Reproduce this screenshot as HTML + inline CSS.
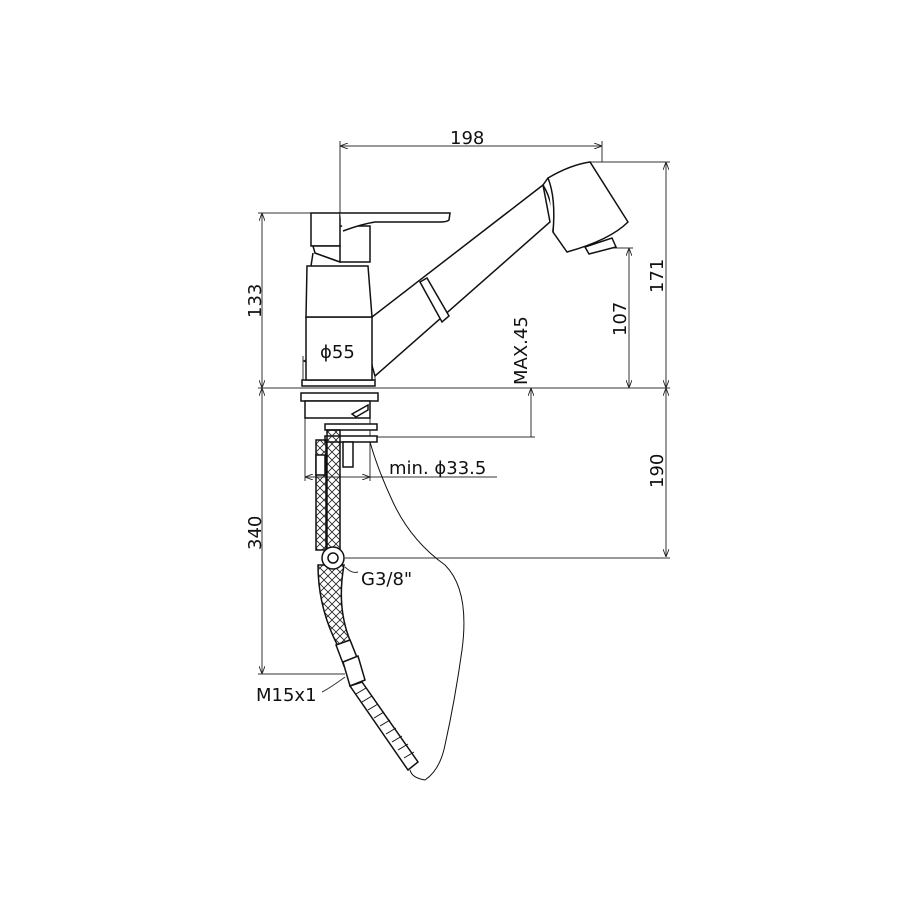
<!DOCTYPE html>
<html><head><style>body{margin:0;background:#fff}svg{display:block}text{font-family:"DejaVu Sans","Liberation Sans",sans-serif;fill:#111}</style></head>
<body>
<svg width="900" height="900" viewBox="0 0 900 900" xmlns="http://www.w3.org/2000/svg">
<defs>
<pattern id="hx" width="8" height="8" patternUnits="userSpaceOnUse">
<path d="M0 0L8 8M8 0L0 8" stroke="#222" stroke-width="0.8"/>
</pattern>
<marker id="a" markerWidth="8" markerHeight="6" refX="8" refY="3" orient="auto-start-reverse" markerUnits="userSpaceOnUse"><path d="M0 0L8 3L0 6" fill="none" stroke="#222" stroke-width="0.9"/></marker>
</defs>
<g fill="none" stroke="#333" stroke-width="1">
<line x1="340" y1="146" x2="602" y2="146" marker-start="url(#a)" marker-end="url(#a)"/>
<line x1="340" y1="141" x2="340" y2="262"/>
<line x1="602" y1="141" x2="602" y2="162"/>
<line x1="590" y1="162" x2="670" y2="162"/>
<line x1="666" y1="162" x2="666" y2="388" marker-start="url(#a)" marker-end="url(#a)"/>
<line x1="600" y1="248" x2="633" y2="248"/>
<line x1="629" y1="248" x2="629" y2="388" marker-start="url(#a)" marker-end="url(#a)"/>
<line x1="258" y1="213" x2="312" y2="213"/>
<line x1="262" y1="213" x2="262" y2="388" marker-start="url(#a)" marker-end="url(#a)"/>
<line x1="258" y1="388" x2="670" y2="388"/>
<line x1="531" y1="388" x2="531" y2="437" marker-start="url(#a)"/>
<line x1="372" y1="437" x2="535" y2="437"/>
<line x1="666" y1="388" x2="666" y2="557" marker-start="url(#a)" marker-end="url(#a)"/>
<line x1="345" y1="558" x2="670" y2="558"/>
<line x1="262" y1="388" x2="262" y2="674" marker-start="url(#a)" marker-end="url(#a)"/>
<line x1="258" y1="674" x2="345" y2="674"/>
<line x1="303" y1="361" x2="375" y2="361" marker-start="url(#a)" marker-end="url(#a)"/>
<line x1="303" y1="356" x2="303" y2="386"/>
<line x1="375" y1="356" x2="375" y2="386"/>
<line x1="305" y1="400" x2="305" y2="481"/>
<line x1="370" y1="418" x2="370" y2="481"/>
<line x1="305" y1="477" x2="370" y2="477" marker-start="url(#a)" marker-end="url(#a)"/>
<line x1="370" y1="477" x2="497" y2="477"/>
<path d="M345 567 Q352 574 358 572"/>
<path d="M345 677 Q330 688 322 692"/>
</g>
<g fill="#fff" stroke="#111" stroke-width="1.5">
<path d="M372 317 L543 185 L550 222 L375 376 Q365 345 372 317Z"/>
<path d="M420 282 L427 278 L449 316 L442 322Z"/>
<path d="M543 185 L548 178 Q570 165 590 162 L628 222 Q610 240 567 252 L553 232 Q555 205 543 185Z"/>
<path d="M548 178 Q556 198 553 232"/>
<path d="M585 247 L612 238 L616 247 L589 254Z"/>
<rect x="302" y="380" width="73" height="6"/>
<rect x="306" y="317" width="66" height="63"/>
<path d="M307 266 L368 266 L372 317 L306 317Z"/>
<path d="M315 253 L340 262 L370 262 L370 226 L313 226Z"/>
<path d="M313 253 L311 266"/>
<rect x="311" y="213" width="29" height="33"/>
<path d="M340 213 L450 213 L449 220 Q447 222 440 222 L375 222 Q362 224 343 231"/>
<path d="M313 246 L340 246 L340 262 L315 253Z"/>
<rect x="301" y="393" width="77" height="8"/>
<rect x="305" y="401" width="65" height="17"/>
<path d="M352 414 L368 405 L368 410 L356 417Z"/>
<rect x="325" y="424" width="52" height="6"/>
<rect x="325" y="436" width="52" height="6"/>
<rect x="343" y="442" width="10" height="25"/>
<rect x="316" y="440" width="10" height="110" fill="url(#hx)"/>
<rect x="327" y="430" width="13" height="120" fill="url(#hx)"/>
<rect x="316" y="455" width="9" height="20"/>
<path d="M318 565 Q318 610 340 650 L352 645 Q336 610 344 565Z" fill="url(#hx)"/>
<circle cx="333" cy="558" r="11"/>
<circle cx="333" cy="558" r="5"/>
<path d="M336 645 L350 640 L358 660 L344 666Z"/>
<path d="M343 662 L358 656 L365 680 L350 686Z"/>
<path d="M350 686 L362 682 L418 762 L408 770Z"/>
</g>
<g stroke="#111" stroke-width="1">
<path d="M356 694 L366 688 M362 702 L372 696 M368 710 L378 704 M374 718 L384 712 M380 726 L390 720 M386 734 L396 728 M392 742 L402 736 M398 750 L408 744 M404 758 L414 752"/>
</g>
<path d="M370 442 Q378 470 392 500 Q410 540 445 565 Q470 590 462 650 Q455 700 445 745 Q440 770 425 780 Q412 778 410 770" fill="none" stroke="#111" stroke-width="1"/>
<g font-size="18">
<text x="450" y="144">198</text>
<text x="320" y="358">ϕ55</text>
<text x="389" y="474">min. ϕ33.5</text>
<text x="361" y="585">G3/8"</text>
<text x="256" y="701">M15x1</text>
<text transform="translate(261,318) rotate(-90)">133</text>
<text transform="translate(527,385) rotate(-90)">MAX.45</text>
<text transform="translate(626,336) rotate(-90)">107</text>
<text transform="translate(663,293) rotate(-90)">171</text>
<text transform="translate(663,488) rotate(-90)">190</text>
<text transform="translate(261,550) rotate(-90)">340</text>
</g>
</svg>
</body></html>
